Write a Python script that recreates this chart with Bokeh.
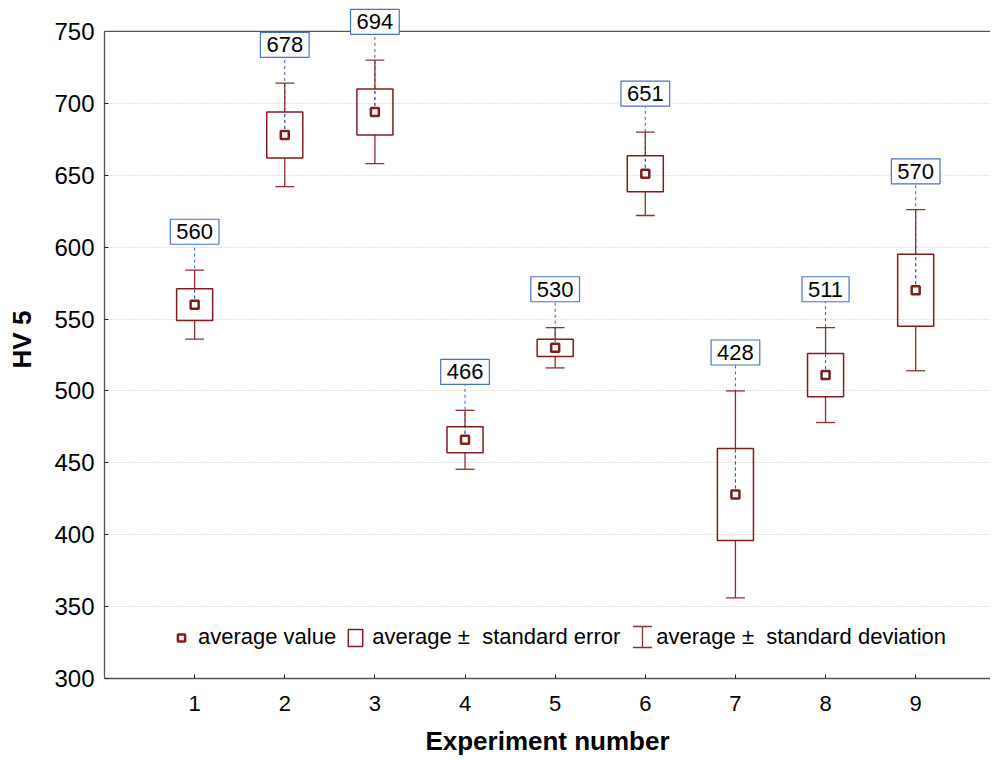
from bokeh.plotting import figure
from bokeh.models import (ColumnDataSource, Range1d, FixedTicker, Span,
                          Legend, LegendItem, Label, Arrow)
from bokeh.embed import file_html
from bokeh.resources import INLINE

experiments = [1, 2, 3, 4, 5, 6, 7, 8, 9]
means = [560, 678, 694, 466, 530, 651, 428, 511, 570]
std_err = [11, 16, 16, 9, 6, 12.5, 32, 15, 25]
std_dev = [24, 36, 36, 20.5, 14, 29, 72, 33, 56]
y_ticks = [300, 350, 400, 450, 500, 550, 600, 650, 700, 750]
y_min, y_max = 300, 750

box_w = 0.4
cap_w = 0.21
label_gap = 18

src = ColumnDataSource(dict(
    x=experiments,
    mean=means,
    se_lo=[m - s for m, s in zip(means, std_err)],
    se_hi=[m + s for m, s in zip(means, std_err)],
    sd_lo=[m - s for m, s in zip(means, std_dev)],
    sd_hi=[m + s for m, s in zip(means, std_dev)],
    lab_y=[m + s + label_gap for m, s in zip(means, std_dev)],
    cap_l=[x - cap_w / 2 for x in experiments],
    cap_r=[x + cap_w / 2 for x in experiments],
    box_l=[x - box_w / 2 for x in experiments],
    box_r=[x + box_w / 2 for x in experiments],
))

FONT = "Liberation Sans"
RED = "#7f1d1d"
WRED = "#8b2f2f"
BLUE = "#2f5fc4"
FRAME = "#555555"

# frame extends above 750 so the top value label is not clipped
p = figure(width=990, height=760, output_backend="svg", toolbar_location=None,
           x_range=Range1d(0, 9.83), y_range=Range1d(y_min, 771.5),
           min_border_left=104, min_border_right=0, min_border_top=0,
           min_border_bottom=82)
p.outline_line_color = None
p.background_fill_color = "white"
p.border_fill_color = "white"

# grid
p.xgrid.grid_line_color = None
p.ygrid.grid_line_color = "#c4c4c4"
p.ygrid.grid_line_dash = "1 2"
p.ygrid.grid_line_width = 1
p.ygrid.ticker = FixedTicker(ticks=y_ticks)

# axes
p.xaxis.ticker = FixedTicker(ticks=experiments)
p.yaxis.ticker = FixedTicker(ticks=y_ticks)
p.yaxis.bounds = (y_min, y_max)
for ax in (p.xaxis[0], p.yaxis[0]):
    ax.axis_line_color = FRAME
    ax.axis_line_width = 1.3
    ax.major_tick_in = 4
    ax.major_tick_out = 0
    ax.major_tick_line_color = "#222222"
    ax.minor_tick_line_color = None
    ax.major_label_text_font = FONT
    ax.major_label_text_color = "black"
    ax.axis_label_text_font = FONT
    ax.axis_label_text_font_style = "bold"
    ax.axis_label_text_font_size = "26px"
    ax.axis_label_text_color = "black"
p.yaxis.major_label_text_font_size = "24px"
p.xaxis.major_label_text_font_size = "22px"
p.yaxis.major_label_standoff = 10
p.xaxis.major_label_standoff = 17
p.xaxis.axis_label = "Experiment number"
p.yaxis.axis_label = "HV 5"
p.xaxis.axis_label_standoff = 12
p.yaxis.axis_label_standoff = 14

# top border of the plot area at 750
p.add_layout(Span(location=y_max, dimension="width", line_color=FRAME,
                  line_width=1.3))

# dashed leader lines
p.segment(x0="x", y0="mean", x1="x", y1="lab_y", source=src,
          line_color=BLUE, line_dash="3 3", line_width=1)

# whiskers
p.segment(x0="x", y0="se_hi", x1="x", y1="sd_hi", source=src,
          line_color=WRED, line_width=1.3)
p.segment(x0="x", y0="sd_lo", x1="x", y1="se_lo", source=src,
          line_color=WRED, line_width=1.3)
p.segment(x0="cap_l", y0="sd_hi", x1="cap_r", y1="sd_hi", source=src,
          line_color=WRED, line_width=1.3)
p.segment(x0="cap_l", y0="sd_lo", x1="cap_r", y1="sd_lo", source=src,
          line_color=WRED, line_width=1.3)

# boxes
box_r = p.quad(left="box_l", right="box_r", bottom="se_lo", top="se_hi",
               source=src, fill_color="white", fill_alpha=0.0,
               line_color=RED, line_width=1.5)

# leader line visible inside the box
p.segment(x0="x", y0="mean", x1="x", y1="se_hi", source=src,
          line_color=BLUE, line_dash="3 3", line_width=1)

# means
mean_r = p.scatter(x="x", y="mean", source=src, marker="square", size=8,
                   fill_color="white", line_color=RED, line_width=2.5)

# value labels
for xv, yv, m in zip(experiments, src.data["lab_y"], means):
    kw = dict(x=xv, y=yv, text=str(m), text_align="center",
              text_baseline="bottom", text_font=FONT,
              text_font_size="22px", text_color="black",
              background_fill_color="white", border_line_color="#4a72c0",
              border_line_width=1.2, level="overlay")
    try:
        lab = Label(padding=(6, 5), **kw)
    except Exception:
        lab = Label(**kw)
    p.add_layout(lab)

# legend
vs = p.vspan(x=[-100], line_color=WRED, line_alpha=0.0, line_width=1.3)

legend = Legend(items=[
    LegendItem(label="average value", renderers=[mean_r]),
    LegendItem(label="average ±  standard error", renderers=[box_r]),
    LegendItem(label="average ±  standard deviation", renderers=[vs]),
], orientation="horizontal", location=(68, 28),
    label_text_font=FONT, label_text_font_size="22px",
    label_text_color="black", glyph_width=18, glyph_height=21,
    label_standoff=8, spacing=10, border_line_color=None,
    background_fill_alpha=0, padding=0, margin=0,
    click_policy="none")
p.add_layout(legend, "center")

# I-beam legend symbol for the standard deviation item
ib_x, ib_y0, ib_y1, ib_w = 538, 31, 52, 9.5
for xs, ys, xe, ye in [(ib_x, ib_y0, ib_x, ib_y1),
                       (ib_x - ib_w, ib_y0, ib_x + ib_w, ib_y0),
                       (ib_x - ib_w, ib_y1, ib_x + ib_w, ib_y1)]:
    p.add_layout(Arrow(x_start=xs, y_start=ys, x_end=xe, y_end=ye,
                       start_units="screen", end_units="screen",
                       start=None, end=None, line_color=WRED, line_width=1.3))

open("out.html", "w").write(file_html(p, INLINE))
